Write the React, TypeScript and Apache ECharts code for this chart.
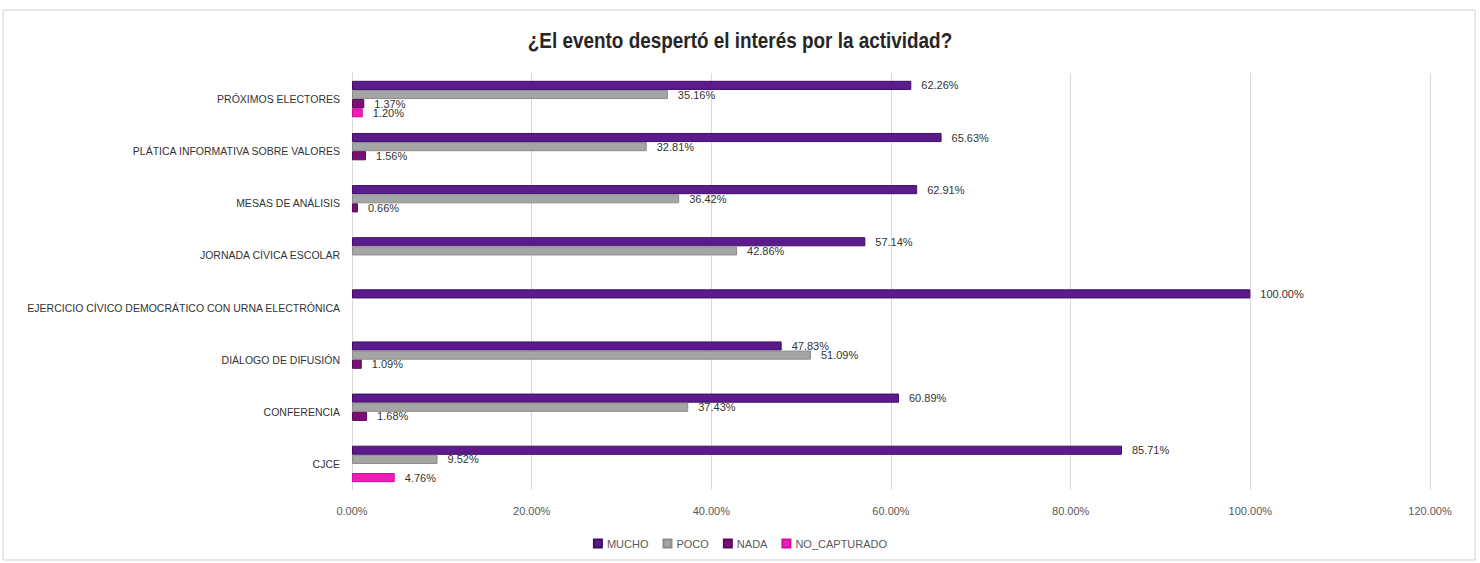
import React, { useEffect, useRef } from "react";
import * as echarts from "echarts";

const categories = [
  "CJCE",
  "CONFERENCIA",
  "DIÁLOGO DE DIFUSIÓN",
  "EJERCICIO CÍVICO DEMOCRÁTICO CON URNA ELECTRÓNICA",
  "JORNADA CÍVICA ESCOLAR",
  "MESAS DE ANÁLISIS",
  "PLÁTICA INFORMATIVA SOBRE VALORES",
  "PRÓXIMOS ELECTORES",
];
const mucho = [85.71, 60.89, 47.83, 100.0, 57.14, 62.91, 65.63, 62.26];
const poco = [9.52, 37.43, 51.09, null, 42.86, 36.42, 32.81, 35.16];
const nada = [null, 1.68, 1.09, null, null, 0.66, 1.56, 1.37];
const noCapturado = [4.76, null, null, null, null, null, null, 1.2];
const xTicks = [0, 20, 40, 60, 80, 100, 120];

const titleText = "¿El evento despertó el interés por la actividad?";
const seriesNames = ["MUCHO", "POCO", "NADA", "NO_CAPTURADO"];
const seriesColors = ["#5c1a8c", "#a5a5a5", "#7a0e78", "#f01cb8"];
const seriesBorders = ["#3d0f63", "#8c8c8c", "#5a0a58", "#d00ea0"];

export default function App() {
  const ref = useRef<HTMLDivElement>(null);
  useEffect(() => {
    if (!ref.current) return;
    const chart = echarts.init(ref.current, undefined, { renderer: "svg" });
    const datas = [mucho, poco, nada, noCapturado];
    chart.setOption({
      animation: false,
      backgroundColor: "#ffffff",
      legend: {
        data: seriesNames,
        bottom: 9,
        left: "center",
        itemWidth: 8,
        itemHeight: 8,
        itemGap: 14,
        icon: "rect",
        textStyle: { fontSize: 11, color: "#595959", fontFamily: "Liberation Sans, Arial" },
      },
      grid: { left: 352, right: 50, top: 73, bottom: 73, containLabel: false },
      xAxis: {
        type: "value",
        min: xTicks[0],
        max: xTicks[xTicks.length - 1],
        interval: 20,
        axisLine: { show: false },
        axisTick: { show: false },
        splitLine: { lineStyle: { color: "#d9d9d9", width: 1 } },
        axisLabel: {
          formatter: (v: number) => v.toFixed(2) + "%",
          fontSize: 11,
          color: "#595959",
          margin: 15,
          fontFamily: "Liberation Sans, Arial",
        },
      },
      yAxis: {
        type: "category",
        data: categories,
        axisLine: { show: true, lineStyle: { color: "#d9d9d9" } },
        axisTick: { show: false },
        axisLabel: {
          fontSize: 10.5,
          color: "#333333",
          margin: 12,
          fontFamily: "Liberation Sans, Arial",
        },
      },
      series: seriesNames.map((name, i) => ({
        name,
        type: "bar",
        data: datas[i],
        barGap: "0%",
        barCategoryGap: "30%",
        itemStyle: { color: seriesColors[i], borderColor: seriesBorders[i], borderWidth: 1 },
        label: {
          show: true,
          position: "right",
          distance: 10,
          formatter: (p: any) => (p.value == null ? "" : Number(p.value).toFixed(2) + "%"),
          fontSize: 11,
          color: "#333333",
          fontFamily: "Liberation Sans, Arial",
        },
      })),
      graphic: [
        {
          type: "rect",
          shape: { x: 3, y: 10, width: 1472, height: 550 },
          style: { fill: "none", stroke: "#d0d0d0", lineWidth: 1 },
          silent: true,
        },
        {
          type: "text",
          x: 740,
          y: 40,
          scaleX: 0.86,
          silent: true,
          style: {
            text: titleText,
            fontFamily: "Liberation Sans, Arial",
            fontSize: 22,
            fontWeight: "bold",
            fill: "#262626",
            textAlign: "center",
            textVerticalAlign: "middle",
          },
        },
      ],
    });
    return () => chart.dispose();
  }, []);
  return (
    <div
      ref={ref}
      style={{ position: "fixed", left: 0, top: 0, width: 1480, height: 563 }}
    />
  );
}
